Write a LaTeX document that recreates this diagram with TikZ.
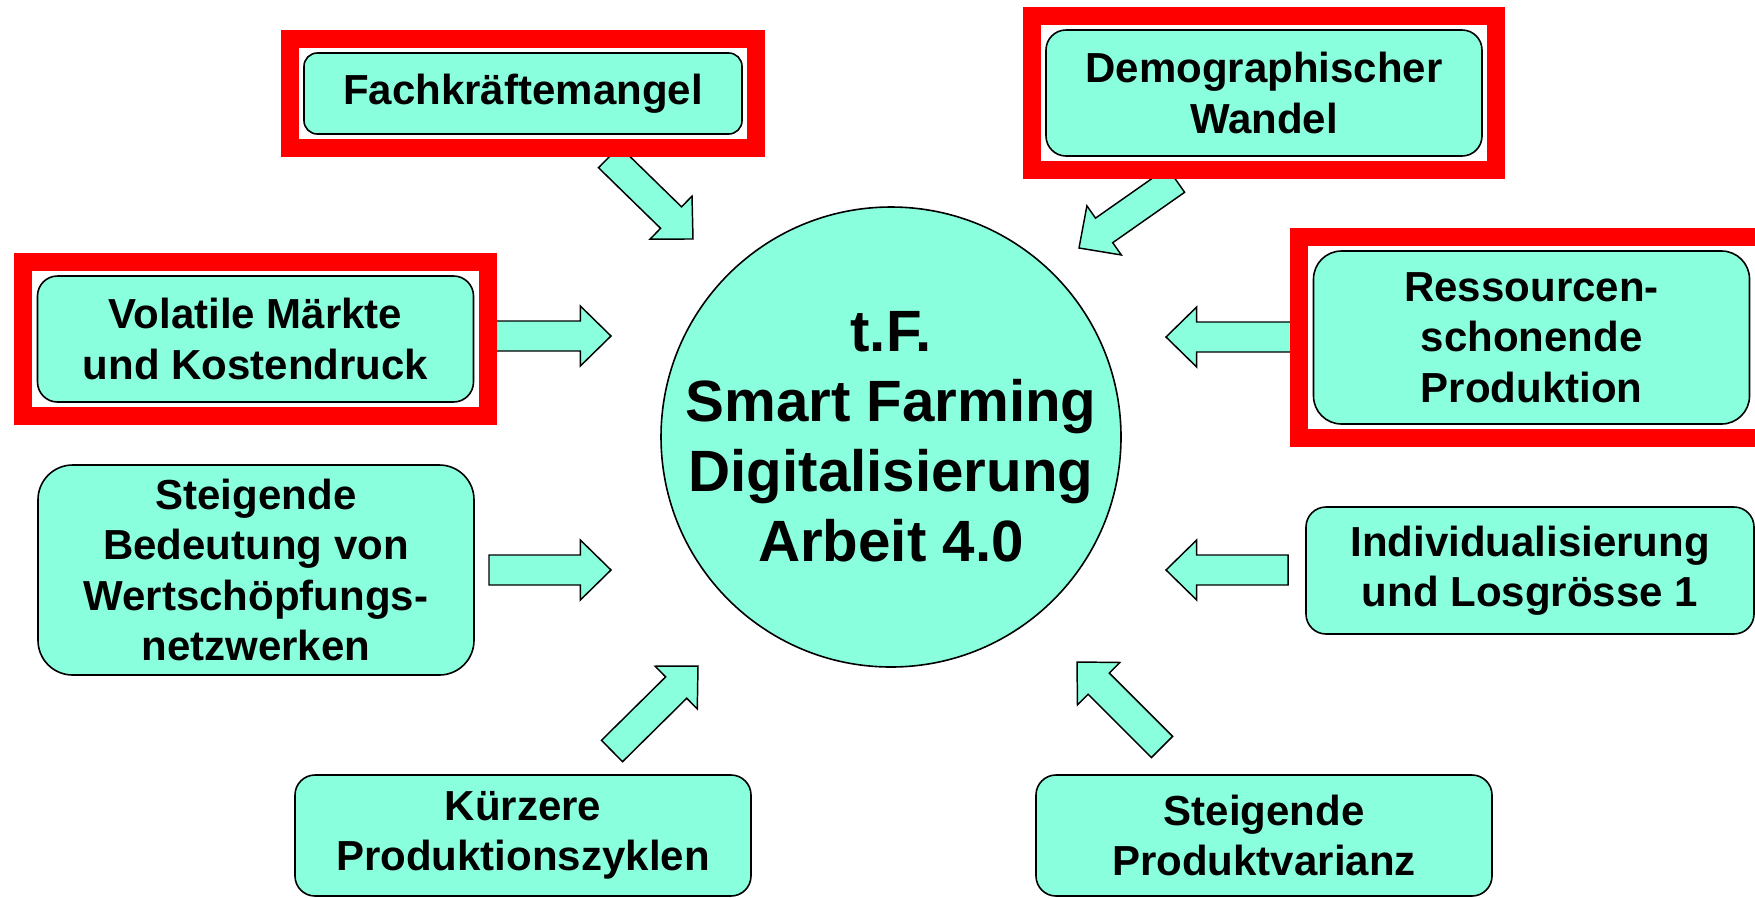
\documentclass[tikz,border=0pt]{standalone}
\usepackage{fontspec}
\setmainfont{Liberation Sans}
\usetikzlibrary{calc,fit}

\definecolor{mint}{RGB}{138,255,222}
\definecolor{alarmred}{RGB}{255,0,0}

\tikzset{
  factor/.style={draw=black, line width=1.2pt, fill=mint, rounded corners=#1, align=center,
    inner sep=0pt, minimum width=327pt, minimum height=94.5pt,
    font=\fontsize{31.5}{37.8}\selectfont\bfseries},
  factor/.default=15pt,
  core/.style={circle, draw=black, line width=1.2pt, fill=mint, align=center, inner sep=-20pt,
    minimum size=345pt, font=\fontsize{43.7}{52.5}\selectfont\bfseries},
  alarm/.style={draw=alarmred, line width=13.5pt, inner sep=10pt},
  driver/.style={draw=black, line width=1.1pt, fill=mint, line join=miter}
}

% block arrow from tail #1 to tip #2
\newcommand{\drivearrow}[2]{%
  \coordinate (hb) at ($(#2)!23pt!(#1)$);
  \draw[driver] ($(#1)!11.25pt!90:(#2)$) -- ($(hb)!11.25pt!90:(#2)$) -- ($(hb)!22.5pt!90:(#2)$)
    -- (#2) -- ($(hb)!22.5pt!-90:(#2)$) -- ($(hb)!11.25pt!-90:(#2)$) -- ($(#1)!11.25pt!-90:(#2)$) -- cycle;
}

\begin{document}
\begin{tikzpicture}[x=0.75pt,y=-0.75pt]
\useasboundingbox (0,0) rectangle (1755,897);

% Centre
\node[core] (core) at (891,437) {t.F.\\Smart Farming\\Digitalisierung\\Arbeit 4.0};

% Factors
\node[factor=10pt, minimum width=328.5pt, minimum height=60.75pt] (fach) at (523,93.5) {Fachkräftemangel};
\node[factor] (demo) at (1264,93) {Demographischer\\Wandel};
\node[factor] (vola) at (255.5,339) {Volatile Märkte\\und Kostendruck};
\node[factor=21pt, minimum height=129.75pt] (ress) at (1531.5,337.5) {Ressourcen-\\schonende\\Produktion};
\node[factor=26pt, minimum height=157.5pt] (wert) at (256,570) {Steigende\\Bedeutung von\\Wertschöpfungs-\\netzwerken};
\node[factor, minimum width=336pt, minimum height=95.25pt] (indiv) at (1530,570.5) {Individualisierung\\und Losgrösse 1};
\node[factor, minimum width=342pt, minimum height=90.75pt] (zyk) at (523,835.5) {Kürzere\\Produktionszyklen};
\node[factor, minimum width=342pt, minimum height=90.75pt] (var) at (1264,835.5) {Steigende\\Produktvarianz};

% Arrow ends
\coordinate (fach-tail) at (609,157);   \coordinate (fach-tip) at (693,239);
\coordinate (demo-tail) at (1176,180);  \coordinate (demo-tip) at (1079,248);
\coordinate (vola-tail) at (490,336);   \coordinate (vola-tip) at (611,336);
\coordinate (ress-tail) at (1296,337);  \coordinate (ress-tip) at (1166,337);
\coordinate (wert-tail) at (489,570);   \coordinate (wert-tip) at (611,570);
\coordinate (indiv-tail) at (1288,570); \coordinate (indiv-tip) at (1166,570);
\coordinate (zyk-tail) at (612,751);    \coordinate (zyk-tip) at (698,666);
\coordinate (var-tail) at (1162,747);   \coordinate (var-tip) at (1077,662);

\foreach \f in {fach,demo,vola,ress,wert,indiv,zyk,var}
  \drivearrow{\f-tail}{\f-tip};

% Red frames
\node[alarm, fit=(fach)] (fach-frame) {};
\node[alarm, fit=(demo)] (demo-frame) {};
\node[alarm, fit=(vola)] (vola-frame) {};
\node[alarm, fit=(ress)] (ress-frame) {};

\end{tikzpicture}
\end{document}
